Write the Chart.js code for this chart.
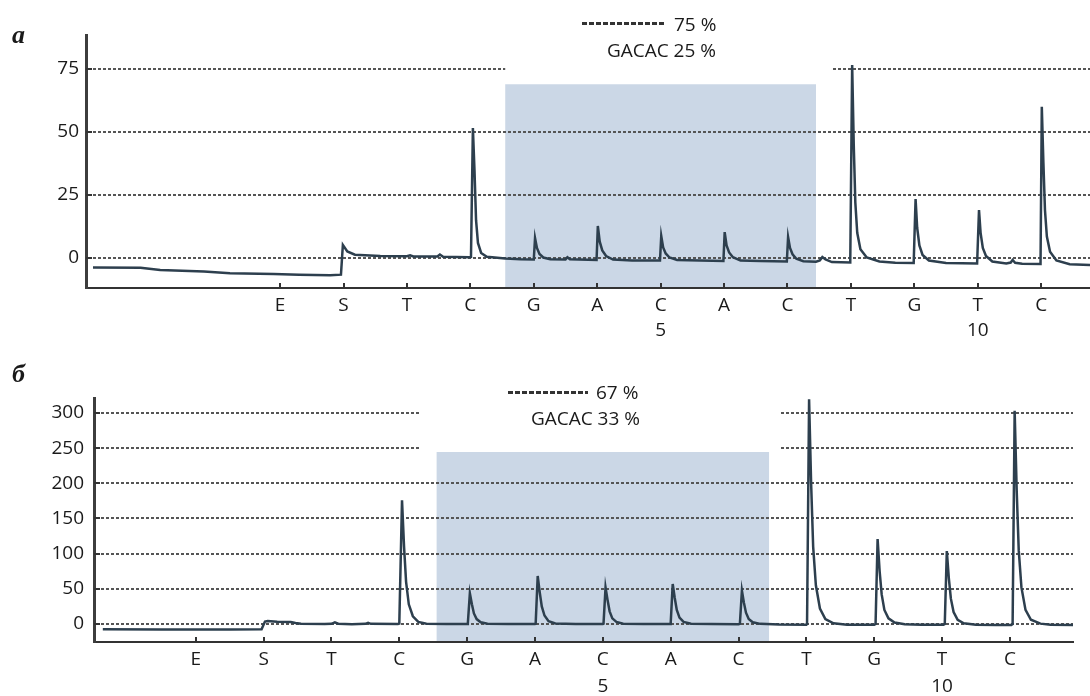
<!DOCTYPE html>
<html lang="ru">
<head>
<meta charset="UTF-8">
<title>Pyrograms</title>
<script src="https://cdn.jsdelivr.net/npm/chart.js"></script>
<style>
  body { margin: 0; background: #fff; width: 1090px; height: 696px; position: relative; overflow: hidden;
         font-family: 'Open Sans', sans-serif; color: #1a1a1a; }
  canvas { position: absolute; left: 0; z-index: 1; }
  #chartA { top: 0; }
  #chartB { top: 345px; }
  .panel { position: absolute; z-index: 2; left: 12px; font: italic bold 26px 'Liberation Serif', serif; line-height: 26px; }
  .lg { position: absolute; z-index: 2; font-size: 19px; line-height: 20px; white-space: nowrap; }
  .dots { position: absolute; z-index: 2; height: 3px;
          background: repeating-linear-gradient(90deg, #333 0 5px, transparent 5px 7px); }
</style>
</head>
<body>
<div class="panel" style="top:22px">а</div>
<div class="dots" style="left:582px; top:22px; width:84px"></div>
<div class="lg" style="left:674px; top:14px">75 %</div>
<div class="lg" style="right:374px; top:40px">GACAC 25 %</div>
<canvas id="chartA" width="1090" height="345"></canvas>

<div class="panel" style="top:361px">б</div>
<div class="dots" style="left:508px; top:391px; width:80px"></div>
<div class="lg" style="left:596px; top:382px">67 %</div>
<div class="lg" style="right:450px; top:408px">GACAC 33 %</div>
<canvas id="chartB" width="1090" height="351"></canvas>

<script>
// dispensation order (x axis) and the position numbers under it
const flows = ['E', 'S', 'T', 'C', 'G', 'A', 'C', 'A', 'C', 'T', 'G', 'T', 'C'];
const flowNumbers = ['', '', '', '', '', '', '5', '', '', '', '', '10', ''];

// y tick values
const yTicksA = [0, 25, 50, 75];
const yTicksB = [0, 50, 100, 150, 200, 250, 300];

// shaded GACAC region [from flow, to flow, top value]
const bandA = [4.55, 9.45, 69];
const bandB = [4.55, 9.45, 244.6];
// where the upper grid lines are cut by the legend
const gapA = [4.55, 9.69, 69];
const gapB = [4.30, 9.62, 244.6];

// panel a trace [flow position, signal]
const traceA = [
  [-1.95, -3.8], [-1.2, -3.9], [-0.89, -4.8], [-0.2, -5.4], [0.21, -6.0], [0.9, -6.3], [1.3, -6.6], [1.79, -6.8], [1.96, -6.6],
  [1.99, 5.2], [2.06, 2.6], [2.18, 1.3], [2.58, 0.8], [3.0, 0.7], [3.05, 1.1], [3.1, 0.6], [3.48, 0.6], [3.52, 1.4], [3.57, 0.5], [3.98, 0.3],
  [4.01, 0.4], [4.04, 51.6], [4.065, 35], [4.09, 15], [4.12, 6], [4.17, 2], [4.26, 0.5], [4.55, -0.2], [4.79, -0.5], [5.0, -0.6],
  [5.02, 7.9], [5.05, 4], [5.09, 1.6], [5.15, 0.2], [5.26, -0.5], [5.5, -0.6], [5.53, 0.3], [5.57, -0.5], [5.99, -0.8],
  [6.01, 12.7], [6.04, 6.5], [6.08, 3], [6.14, 0.8], [6.25, -0.6], [6.55, -1.0], [6.99, -1.0],
  [7.01, 8.7], [7.04, 4.2], [7.08, 1.8], [7.14, 0.2], [7.26, -0.8], [7.62, -1.0], [7.99, -1.2],
  [8.01, 10.3], [8.04, 5], [8.08, 2.2], [8.14, 0.3], [8.26, -1.0], [8.57, -1.2], [8.99, -1.4],
  [9.01, 8.3], [9.04, 4], [9.08, 1.5], [9.14, -0.3], [9.25, -1.3], [9.45, -1.5], [9.51, -1.0], [9.55, 0.4], [9.6, -0.6], [9.7, -1.6], [9.99, -1.8],
  [10.02, 76.6], [10.045, 45], [10.07, 22], [10.1, 10], [10.15, 3.5], [10.25, 0.2], [10.45, -1.4], [10.7, -1.9], [10.99, -2.0],
  [11.02, 23.4], [11.045, 12], [11.08, 5], [11.13, 1.2], [11.23, -1.0], [11.5, -2.0], [11.99, -2.2],
  [12.02, 19], [12.045, 10], [12.08, 4], [12.13, 0.8], [12.23, -1.4], [12.45, -2.2], [12.52, -1.8], [12.55, -0.8], [12.59, -1.9], [12.7, -2.3], [12.99, -2.4],
  [13.01, 60], [13.035, 38], [13.06, 19], [13.09, 8.5], [13.14, 2.5], [13.24, -1.0], [13.45, -2.5], [13.77, -2.8]
];

// panel b trace [flow position, signal]
const traceB = [
  [-0.37, -7.6], [0.5, -7.8], [1.5, -7.8], [1.97, -7.6], [2.02, 3.5], [2.06, 4.3], [2.2, 3.2], [2.4, 2.8], [2.47, 1.5], [2.55, 0.2],
  [2.9, 0], [3.0, 0.3], [3.05, 2.4], [3.1, 0.5], [3.3, -0.3], [3.5, 0.2], [3.54, 1.5], [3.58, 0.2], [3.98, 0],
  [4.0, 0.5], [4.04, 176], [4.07, 110], [4.1, 60], [4.14, 28], [4.2, 11], [4.28, 3], [4.4, 0.5], [4.7, 0], [5.0, 0],
  [5.01, 0.5], [5.04, 43.7], [5.07, 28], [5.1, 15], [5.14, 7], [5.2, 2.5], [5.3, 0.3], [5.6, 0], [6.0, 0],
  [6.01, 0.5], [6.04, 68.2], [6.07, 45], [6.1, 25], [6.14, 12], [6.2, 4], [6.3, 0.8], [6.6, 0], [7.0, 0],
  [7.01, 0.5], [7.04, 52.1], [7.07, 34], [7.1, 18], [7.14, 8], [7.2, 3], [7.3, 0.5], [7.6, 0], [7.99, 0],
  [8.0, 0.5], [8.03, 56.9], [8.06, 37], [8.09, 20], [8.13, 9], [8.19, 3], [8.3, 0.5], [8.6, 0], [9.0, -0.3],
  [9.02, 0.3], [9.05, 47.4], [9.08, 30], [9.11, 16], [9.15, 7], [9.21, 2.5], [9.32, 0.2], [9.6, -0.8], [10.0, -1.0],
  [10.01, 0], [10.04, 319.5], [10.07, 200], [10.1, 110], [10.14, 55], [10.2, 22], [10.28, 7], [10.4, 1], [10.6, -1.0], [11.0, -1.2],
  [11.02, 0], [11.05, 120.9], [11.08, 75], [11.11, 42], [11.15, 20], [11.21, 8], [11.3, 2], [11.45, -0.5], [11.7, -1.2], [12.02, -1.2],
  [12.04, 0], [12.07, 103.8], [12.1, 65], [12.13, 36], [12.17, 17], [12.23, 6], [12.32, 1], [12.5, -1], [12.8, -1.3], [13.02, -1.3],
  [13.04, 0], [13.07, 303], [13.1, 190], [13.13, 105], [13.17, 52], [13.23, 20], [13.31, 6], [13.45, 0.5], [13.6, -1.2], [13.93, -1.4]
];

Chart.defaults.animation = false;
Chart.defaults.font.family = "'Open Sans', sans-serif";
Chart.defaults.font.size = 19;
Chart.defaults.color = '#1a1a1a';

// shaded region, legend gap in the grid, and small inward tick marks
const pyroPlugin = {
  id: 'pyro',
  beforeDraw(chart, args, opts) {
    const { ctx, chartArea, scales: { x, y } } = chart;
    const l = x.getPixelForValue(opts.band[0]);
    const r = x.getPixelForValue(opts.band[1]);
    const t = y.getPixelForValue(opts.band[2]);
    ctx.save();
    ctx.fillStyle = '#cbd7e6';
    ctx.fillRect(l, t, r - l, chartArea.bottom - t);
    ctx.restore();
  },
  beforeDatasetsDraw(chart, args, opts) {
    const { ctx, chartArea, scales: { x, y } } = chart;
    const l = x.getPixelForValue(opts.gap[0]);
    const r = x.getPixelForValue(opts.gap[1]);
    const b = y.getPixelForValue(opts.gap[2]);
    ctx.save();
    ctx.fillStyle = '#fff';
    ctx.fillRect(l, chartArea.top - 2, r - l, b - chartArea.top + 2);
    ctx.restore();
  },
  afterDatasetsDraw(chart) {
    const { ctx, chartArea, scales: { x, y } } = chart;
    ctx.save();
    ctx.strokeStyle = '#333';
    ctx.lineWidth = 2;
    ctx.beginPath();
    x.ticks.forEach(t => {
      const px = Math.round(x.getPixelForValue(t.value));
      ctx.moveTo(px, chartArea.bottom);
      ctx.lineTo(px, chartArea.bottom - 5);
    });
    y.ticks.forEach(t => {
      const py = Math.round(y.getPixelForValue(t.value));
      ctx.moveTo(chartArea.left, py);
      ctx.lineTo(chartArea.left + 6, py);
    });
    ctx.stroke();
    ctx.restore();
  }
};

function buildPanel(id, trace, yTicks, opt) {
  new Chart(document.getElementById(id), {
    type: 'line',
    data: {
      datasets: [{
        data: trace.map(p => ({ x: p[0], y: p[1] })),
        borderColor: '#2d3f4e',
        borderWidth: 2.5,
        pointRadius: 0,
        tension: 0
      }]
    },
    options: {
      responsive: false,
      layout: { padding: { top: opt.top, right: opt.right, left: 0, bottom: 0 } },
      plugins: {
        legend: { display: false },
        tooltip: { enabled: false },
        pyro: { band: opt.band, gap: opt.gap }
      },
      scales: {
        x: {
          type: 'linear',
          min: opt.xMin,
          max: opt.xMax,
          afterBuildTicks: s => { s.ticks = flows.map((f, i) => ({ value: i + 1 })); },
          afterFit: s => { s.height = opt.xHeight; },
          grid: { display: false, drawTicks: false },
          border: { color: '#333', width: 2 },
          ticks: {
            autoSkip: false,
            maxRotation: 0,
            padding: opt.xPad,
            font: { lineHeight: opt.lineH },
            callback: (v, i) => flowNumbers[i] ? [flows[i], flowNumbers[i]] : flows[i]
          }
        },
        y: {
          min: opt.yMin,
          max: opt.yMax,
          afterBuildTicks: s => { s.ticks = yTicks.map(v => ({ value: v })); },
          afterFit: s => { s.width = opt.yWidth; },
          grid: { color: '#555', lineWidth: 2, drawTicks: false },
          border: { color: '#3d3d3d', width: 3, dash: [3, 2] },
          ticks: { padding: opt.yPad, callback: v => String(v) }
        }
      }
    },
    plugins: [pyroPlugin]
  });
}

buildPanel('chartA', traceA, yTicksA, {
  top: 35, right: 0, xHeight: 57, yWidth: 86, xPad: 5, yPad: 7, lineH: 1.32,
  xMin: -2.06, xMax: 13.77, yMin: -11.9, yMax: 88.5, band: bandA, gap: gapA
});
buildPanel('chartB', traceB, yTicksB, {
  top: 53, right: 17, xHeight: 54, yWidth: 94, xPad: 4, yPad: 10, lineH: 1.42,
  xMin: -0.5, xMax: 13.93, yMin: -25.6, yMax: 321.3, band: bandB, gap: gapB
});
</script>
</body>
</html>
